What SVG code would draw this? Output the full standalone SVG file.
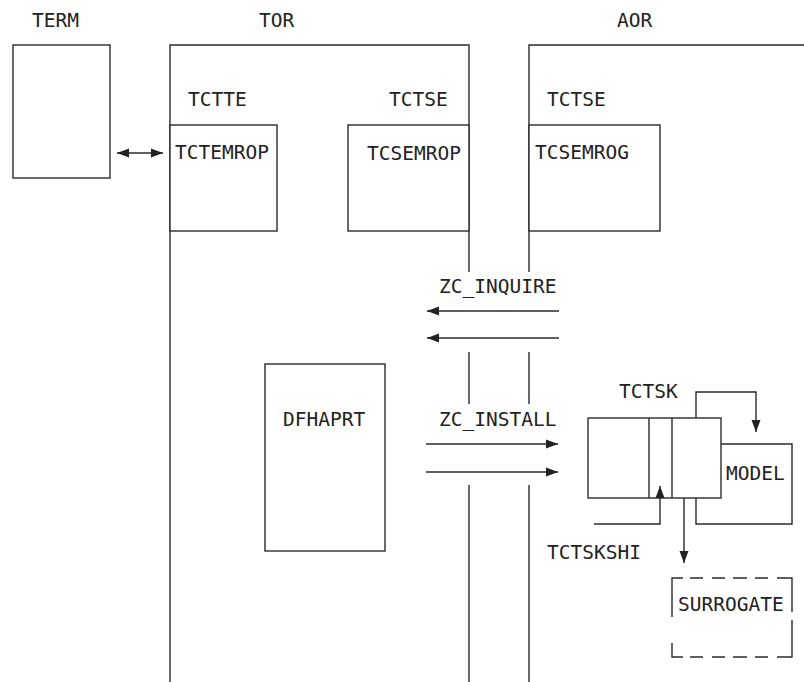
<svg xmlns="http://www.w3.org/2000/svg" width="804" height="682" viewBox="0 0 804 682">
<style>
.ln{fill:none;stroke:#2b2b2b;stroke-width:1.4}
.bx{fill:#fff;stroke:#2b2b2b;stroke-width:1.4}
.t{font-family:"DejaVu Sans Mono","Liberation Mono",monospace;font-size:19.5px;fill:#222}
.ds{fill:none;stroke:#2b2b2b;stroke-width:1.4}
</style>
<defs>
<marker id="ah" markerUnits="userSpaceOnUse" markerWidth="12" markerHeight="10" refX="12" refY="5" orient="auto-start-reverse">
<path d="M0,0.5 L12,5 L0,9.5 z" fill="#222"/>
</marker>
</defs>
<rect width="804" height="682" fill="#fff"/>

<g id="term">
<rect class="bx" x="13" y="45" width="97" height="133"/>
<text class="t" x="32" y="27">TERM</text>
</g>

<g id="tor">
<path class="ln" d="M170,682 V45 H469 V272 M469,352 V404 M469,485 V682"/>
<text class="t" x="259" y="27">TOR</text>
<text class="t" x="188" y="106">TCTTE</text>
<text class="t" x="389" y="106">TCTSE</text>
</g>

<g id="aor">
<path class="ln" d="M804,45 H529 V272 M529,352 V404 M529,485 V682"/>
<text class="t" x="617" y="27">AOR</text>
<text class="t" x="547" y="106">TCTSE</text>
</g>

<g id="tctemrop">
<rect class="bx" x="170" y="125" width="107" height="106"/>
<text class="t" x="175" y="159">TCTEMROP</text>
</g>

<g id="tcsemrop">
<rect class="bx" x="348" y="125" width="121" height="106"/>
<text class="t" x="367" y="160">TCSEMROP</text>
</g>

<g id="tcsemrog">
<rect class="bx" x="529" y="125" width="131" height="106"/>
<text class="t" x="535" y="159">TCSEMROG</text>
</g>

<g id="dfhaprt">
<rect class="bx" x="265" y="364" width="120" height="187"/>
<text class="t" x="283" y="426">DFHAPRT</text>
</g>

<g id="model">
<path class="ln" d="M721,444 H792 V524 H696 V498"/>
<text class="t" x="726" y="480">MODEL</text>
</g>

<g id="tctsk">
<rect class="bx" x="588" y="418" width="133" height="80"/>
<path class="ln" d="M649,418 V498 M672,418 V498"/>
<text class="t" x="619" y="398">TCTSK</text>
</g>

<g id="surrogate">
<path class="ds" d="M672,590 V578 H683 M690,578 H703 M712,578 H725 M733,578 H747 M755,578 H768 M777,578 H792 V612 M792,620 V657 H777 M768,657 H755 M747,657 H733 M725,657 H712 M703,657 H690 M683,657 H672 V643 M672,617 V590"/>
<text class="t" x="678" y="611">SURROGATE</text>
</g>

<g id="labels">
<text class="t" x="439" y="293">ZC_INQUIRE</text>
<text class="t" x="439" y="426">ZC_INSTALL</text>
<text class="t" x="547" y="559">TCTSKSHI</text>
</g>

<g id="connectors">
<line class="ln" x1="117" y1="153" x2="163" y2="153" marker-start="url(#ah)" marker-end="url(#ah)"/>
<line class="ln" x1="559" y1="311" x2="427" y2="311" marker-end="url(#ah)"/>
<line class="ln" x1="559" y1="338" x2="427" y2="338" marker-end="url(#ah)"/>
<line class="ln" x1="426" y1="444" x2="558" y2="444" marker-end="url(#ah)"/>
<line class="ln" x1="426" y1="472" x2="558" y2="472" marker-end="url(#ah)"/>
<path class="ln" d="M696,418 V392 H756 V432" marker-end="url(#ah)"/>
<path class="ln" d="M594,524 H660 V486" marker-end="url(#ah)"/>
<path class="ln" d="M684,498 V563" marker-end="url(#ah)"/>
</g>
</svg>
